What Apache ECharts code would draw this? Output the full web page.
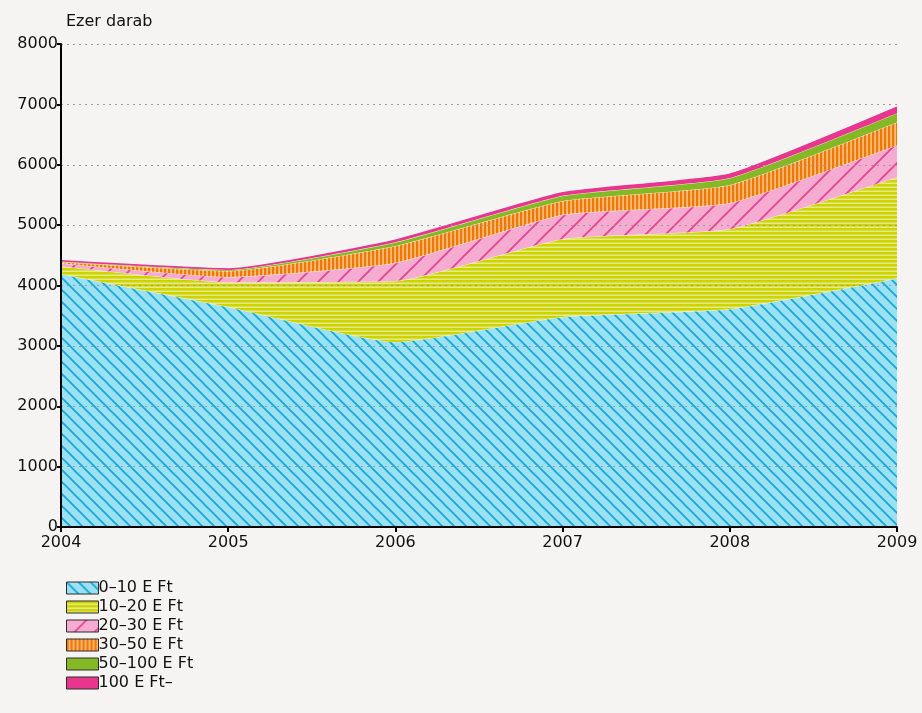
<!DOCTYPE html>
<html>
<head>
<meta charset="utf-8">
<script src="https://cdn.jsdelivr.net/npm/echarts@6/dist/echarts.min.js"></script>
<style>
  html, body { margin: 0; padding: 0; background: #f5f4f2; }
  #chart { width: 922px; height: 713px; }
</style>
</head>
<body>
<div id="chart"></div>
<script>
// adatok (ezer darab)
var years = ['2004', '2005', '2006', '2007', '2008', '2009']
var yTicks = [0, 1000, 2000, 3000, 4000, 5000, 6000, 7000, 8000]
var names = ['0–10 E Ft', '10–20 E Ft', '20–30 E Ft', '30–50 E Ft', '50–100 E Ft', '100 E Ft–']
var s0_10 = [4190, 3645, 3065, 3480, 3610, 4120]
var s10_20 = [130, 410, 1010, 1290, 1325, 1675]
var s20_30 = [50, 85, 300, 400, 430, 530]
var s30_50 = [20, 100, 280, 230, 300, 380]
var s50_100 = [10, 20, 60, 85, 115, 150]
var s100 = [10, 15, 35, 50, 65, 100]
var seriesData = [s0_10, s10_20, s20_30, s30_50, s50_100, s100]

// mintazatok
function makePattern (w, h, draw) {
    var c = document.createElement('canvas')
    c.width = w
    c.height = h
    draw(c.getContext('2d'), w, h)
    return { image: c, repeat: 'repeat' }
}
var blueFill = makePattern(12, 12, function (ctx, w, h) {
    ctx.fillStyle = '#9ce0f3'
    ctx.fillRect(0, 0, w, h)
    ctx.strokeStyle = '#0ea8d6'
    ctx.lineWidth = 1.6
    ctx.beginPath()
    ctx.moveTo(-2, -2); ctx.lineTo(w + 2, h + 2)
    ctx.moveTo(-2, h - 2); ctx.lineTo(2, h + 2)
    ctx.moveTo(w - 2, -2); ctx.lineTo(w + 2, 2)
    ctx.stroke()
})
var yellowFill = makePattern(4, 4, function (ctx, w, h) {
    ctx.fillStyle = '#e7ea8c'
    ctx.fillRect(0, 0, w, h)
    ctx.fillStyle = '#cdd400'
    ctx.fillRect(0, 0, w, 2.5)
})
var pinkFill = makePattern(20, 20, function (ctx, w, h) {
    ctx.fillStyle = '#f6acd1'
    ctx.fillRect(0, 0, w, h)
    ctx.strokeStyle = '#e6408f'
    ctx.lineWidth = 1.6
    ctx.beginPath()
    ctx.moveTo(-2, h + 2); ctx.lineTo(w + 2, -2)
    ctx.moveTo(-2, 2); ctx.lineTo(2, -2)
    ctx.moveTo(w - 2, h + 2); ctx.lineTo(w + 2, h - 2)
    ctx.stroke()
})
var orangeFill = makePattern(4, 4, function (ctx, w, h) {
    ctx.fillStyle = '#fbbb7e'
    ctx.fillRect(0, 0, w, h)
    ctx.fillStyle = '#f07800'
    ctx.fillRect(0, 0, 2.2, h)
})
var fills = [blueFill, yellowFill, pinkFill, orangeFill, '#84b827', '#e8368f']
var mainColors = ['#9ce0f3', '#cdd400', '#f6acd1', '#f07800', '#84b827', '#e8368f']

var chart = echarts.init(document.getElementById('chart'))
var font = 'DejaVu Sans'

var series = names.map(function (n, i) {
    return {
        name: n,
        type: 'line',
        stack: 'total',
        smooth: 0.15,
        symbol: 'none',
        data: seriesData[i],
        itemStyle: { color: mainColors[i] },
        lineStyle: {
            width: i === 5 ? 1.5 : 1,
            color: i === 5 ? '#e8368f' : 'rgba(250,250,225,0.8)'
        },
        areaStyle: { color: fills[i], opacity: 1 },
        z: 2 + i
    }
})

var option = {
    backgroundColor: '#f5f4f2',
    animation: false,
    title: {
        text: 'Ezer darab',
        left: 61,
        top: 9,
        textStyle: { fontFamily: font, fontSize: 16, fontWeight: 'normal', color: '#111' }
    },
    legend: {
        orient: 'vertical',
        left: 61,
        top: 575,
        height: 135,
        icon: 'rect',
        itemWidth: 32,
        itemHeight: 12,
        itemGap: 3,
        textStyle: { fontFamily: font, fontSize: 16, color: '#111', padding: [0, 0, 0, -5] },
        data: names.map(function (n, i) {
            return {
                name: n,
                itemStyle: { color: fills[i], borderColor: '#2a2a2a', borderWidth: 1 }
            }
        })
    },
    grid: { left: 61, right: 25, top: 44, bottom: 186 },
    xAxis: {
        type: 'category',
        boundaryGap: false,
        data: years,
        axisLine: { lineStyle: { color: '#000', width: 2 } },
        axisTick: { show: true, length: 5, lineStyle: { color: '#000', width: 2 } },
        axisLabel: { fontFamily: font, fontSize: 16, color: '#111', margin: 8 },
        z: 10
    },
    yAxis: {
        type: 'value',
        min: yTicks[0],
        max: yTicks[yTicks.length - 1],
        interval: 1000,
        axisLine: { show: true, lineStyle: { color: '#000', width: 2 } },
        axisTick: { show: true, length: 4, lineStyle: { color: '#000', width: 2 } },
        axisLabel: {
            fontFamily: font, fontSize: 16, color: '#111', margin: 3,
            formatter: function (v) { return String(v) }
        },
        splitLine: { show: true, lineStyle: { color: '#9a9a9a', width: 1.2, type: [2, 4] } },
        z: 10
    },
    series: series
}
chart.setOption(option)
</script>
</body>
</html>
